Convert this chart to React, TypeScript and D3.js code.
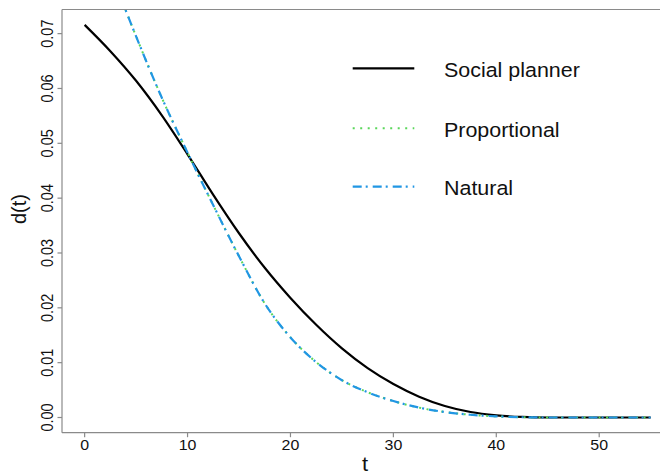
import React from "react";
import * as d3 from "d3";

const tValues = [0, 2.5, 5, 7.5, 10, 12.5, 15, 17.5, 20, 22.5, 25, 27.5, 30, 32.5, 35, 37.5, 40, 42.5, 45, 47.5, 50, 52.5, 55];
const socialPlanner = [0.0716, 0.0668, 0.0614, 0.0551, 0.048, 0.0406, 0.0336, 0.0273, 0.0218, 0.0169, 0.0126, 0.009, 0.0061, 0.0038, 0.0021, 0.001, 0.0004, 0.0001, 0, 0, 0, 0, 0];
const proportional = [0.0935, 0.0814, 0.0695, 0.0583, 0.0483, 0.0387, 0.0294, 0.0208, 0.0146, 0.0101, 0.0068, 0.0046, 0.003, 0.0018, 0.001, 0.0005, 0.0002, 0.00005, 0, 0, 0, 0, 0];
const natural = [0.0935, 0.0814, 0.0695, 0.0583, 0.0483, 0.0387, 0.0294, 0.0208, 0.0146, 0.0101, 0.0068, 0.0046, 0.003, 0.0018, 0.001, 0.0005, 0.0002, 0.00005, 0, 0, 0, 0, 0];
const xTicks = [0, 10, 20, 30, 40, 50];
const yTicks = [0, 0.01, 0.02, 0.03, 0.04, 0.05, 0.06, 0.07];
const legendLabels = ["Social planner", "Proportional", "Natural"];

const W = 660;
const H = 472;
const L = 62;
const R = 673.3;
const T = 9.5;
const B = 432.7;
const FONT = "'Liberation Sans', Arial, Helvetica, sans-serif";
const AXIS = "#8a8a8a";
const GREEN = "#5ad65a";
const BLUE = "#2196e3";

export default function App() {
  const x = d3.scaleLinear().domain([-2.2, 57.2]).range([L, R]);
  const y = d3.scaleLinear().domain([-0.00277, 0.0744]).range([B, T]);
  const line = (vals: number[]) =>
    d3
      .line<number>()
      .x((_, i) => x(tValues[i]))
      .y((d) => y(d))
      .curve(d3.curveMonotoneX)(vals) || "";

  const series = [
    { vals: socialPlanner, color: "#000", dash: "none", w: 2.2 },
    { vals: proportional, color: GREEN, dash: "2,5.5", w: 2 },
    { vals: natural, color: BLUE, dash: "9,4,2,5", w: 2.2 },
  ];
  const legendY = [68.3, 128.3, 186.7];

  return (
    <svg width={W} height={H} style={{ position: "absolute", left: 0, top: 0, background: "#fff" }}>
      <defs>
        <clipPath id="plotclip">
          <rect x={L} y={T} width={R - L} height={B - T} />
        </clipPath>
      </defs>
      <rect x={0} y={0} width={W} height={H} fill="#fff" />
      <g clipPath="url(#plotclip)">
        {series.map((s, i) => (
          <path key={i} d={line(s.vals)} fill="none" stroke={s.color} strokeWidth={s.w} strokeDasharray={s.dash} />
        ))}
      </g>
      <line x1={L} x2={W} y1={T} y2={T} stroke={AXIS} strokeWidth={1.2} />
      <line x1={L} x2={W} y1={B} y2={B} stroke={AXIS} strokeWidth={1.2} />
      <line x1={L} x2={L} y1={T} y2={B} stroke={AXIS} strokeWidth={1.2} />
      {xTicks.map((t) => (
        <g key={t}>
          <line x1={x(t)} x2={x(t)} y1={B} y2={B + 4.5} stroke={AXIS} strokeWidth={1.2} />
          <text
            transform={`translate(${x(t)},450) scale(1.1,1)`}
            textAnchor="middle"
            fontFamily={FONT}
            fontSize={14.5}
            fill="#111"
          >
            {t}
          </text>
        </g>
      ))}
      {yTicks.map((v) => (
        <g key={v}>
          <line x1={L - 4.5} x2={L} y1={y(v)} y2={y(v)} stroke={AXIS} strokeWidth={1.2} />
          <text
            transform={`translate(52.7,${y(v)}) scale(1.1,1) rotate(-90)`}
            textAnchor="middle"
            fontFamily={FONT}
            fontSize={14.5}
            fill="#111"
          >
            {v.toFixed(2)}
          </text>
        </g>
      ))}
      <text transform={`translate(365,470.5) scale(1.1,1)`} textAnchor="middle" fontFamily={FONT} fontSize={20} fill="#111">
        t
      </text>
      <text transform={`translate(25.6,209) rotate(-90)`} textAnchor="middle" fontFamily={FONT} fontSize={20} fill="#111">
        d(t)
      </text>
      {series.map((s, i) => (
        <g key={i}>
          <line x1={352.7} x2={414.3} y1={legendY[i]} y2={legendY[i]} stroke={s.color} strokeWidth={s.w} strokeDasharray={s.dash} />
          <text
            transform={`translate(444,${legendY[i] + 8.2}) scale(1.1,1)`}
            fontFamily={FONT}
            fontSize={19.5}
            fill="#111"
          >
            {legendLabels[i]}
          </text>
        </g>
      ))}
    </svg>
  );
}
